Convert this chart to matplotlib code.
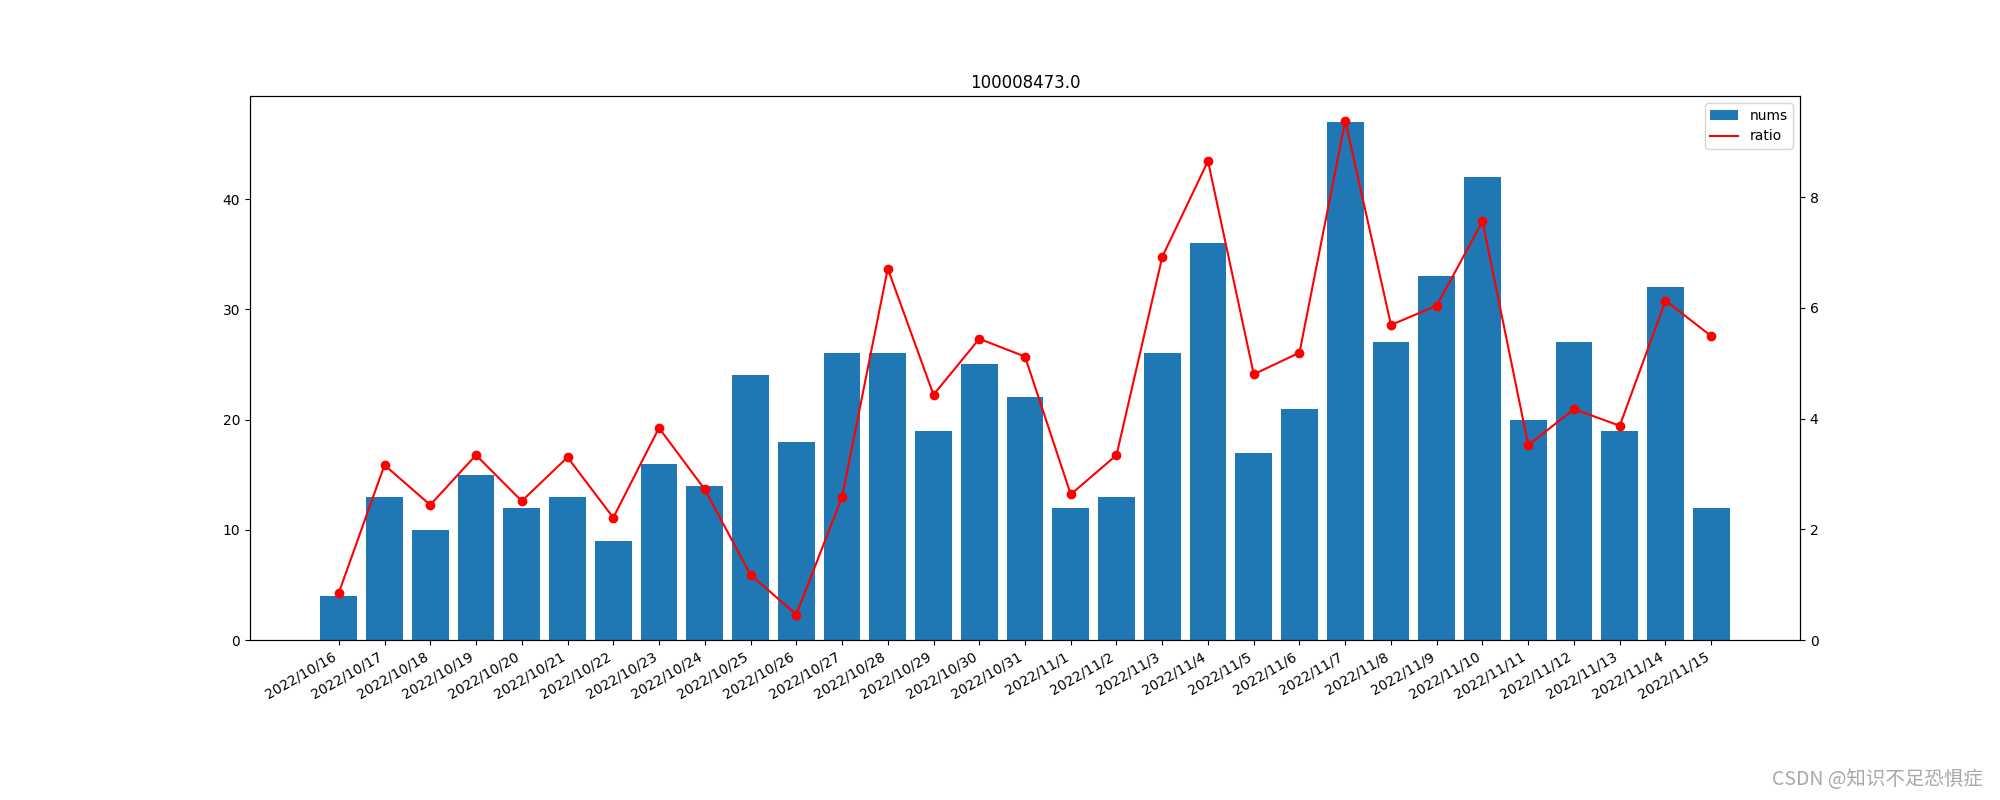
import numpy as np
import matplotlib
matplotlib.use("Agg")
import matplotlib.pyplot as plt

dates = ["2022/10/16", "2022/10/17", "2022/10/18", "2022/10/19", "2022/10/20",
         "2022/10/21", "2022/10/22", "2022/10/23", "2022/10/24", "2022/10/25",
         "2022/10/26", "2022/10/27", "2022/10/28", "2022/10/29", "2022/10/30",
         "2022/10/31", "2022/11/1", "2022/11/2", "2022/11/3", "2022/11/4",
         "2022/11/5", "2022/11/6", "2022/11/7", "2022/11/8", "2022/11/9",
         "2022/11/10", "2022/11/11", "2022/11/12", "2022/11/13", "2022/11/14",
         "2022/11/15"]
nums = [4, 13, 10, 15, 12, 13, 9, 16, 14, 24,
        18, 26, 26, 19, 25, 22, 12, 13, 26, 36,
        17, 21, 47, 27, 33, 42, 20, 27, 19, 32, 12]
ratio = [0.85, 3.16, 2.44, 3.34, 2.51, 3.30, 2.21, 3.83, 2.72, 1.18,
         0.46, 2.58, 6.71, 4.43, 5.44, 5.12, 2.63, 3.34, 6.92, 8.65,
         4.80, 5.19, 9.38, 5.69, 6.04, 7.56, 3.52, 4.17, 3.87, 6.13, 5.49]

fig, ax = plt.subplots(figsize=(20, 8), dpi=100)
bars = ax.bar(dates, nums, label="nums")
ax2 = ax.twinx()
line, = ax2.plot(dates, ratio, color="r", label="ratio")
ax2.plot(dates, ratio, "ro")
ax2.set_ylim(bottom=0)
ax.set_title("100008473.0")
ax2.legend([bars, line], ["nums", "ratio"], loc="upper right")
fig.autofmt_xdate()

# watermark
fig.text(0.9915, 0.012, "CSDN @知识不足恐惧症", ha="right", va="bottom",
         fontsize=14, color="#a8a8a8",
         family=["Noto Sans CJK SC", "DejaVu Sans"])

fig.savefig("out.png")
